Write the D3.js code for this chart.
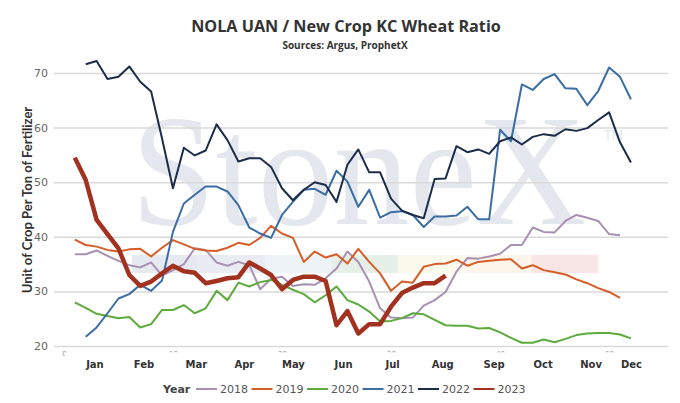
<!DOCTYPE html>
<html><head><meta charset="utf-8">
<script src="https://cdn.jsdelivr.net/npm/d3@7"></script>
<style>body{margin:0;background:#fff;} svg{display:block;}</style>
</head><body><svg id="c" width="680" height="403"></svg>
<script>
const years = ["2018","2019","2020","2021","2022","2023"];
const startWeeks = [1,1,1,2,2,1];
const v2018 = [36.8,36.8,37.5,36.5,35.6,34.8,34.4,35.3,32.9,33.9,35.0,37.9,37.6,35.3,34.7,35.4,34.8,30.4,32.3,32.7,31.0,31.3,31.2,32.4,34.2,37.3,35.4,31.8,26.9,25.2,25.1,25.2,27.4,28.4,29.9,33.6,36.1,36.0,36.4,36.9,38.5,38.5,41.7,40.9,40.8,42.9,44.0,43.5,42.9,40.5,40.3];
const v2019 = [39.5,38.5,38.2,37.6,37.3,37.7,37.8,36.4,38.0,39.4,38.6,37.8,37.5,37.4,38.0,38.9,38.5,39.8,42.0,40.6,39.8,35.4,37.3,36.2,36.8,35.1,37.8,35.4,33.3,30.1,31.8,31.6,34.5,35.0,35.1,35.8,34.7,35.4,35.6,35.8,35.9,34.2,34.8,33.9,33.5,33.1,32.2,31.5,30.6,29.9,28.8];
const v2020 = [28.0,27.0,25.9,25.5,25.1,25.3,23.4,24.0,26.6,26.6,27.5,26.0,26.9,30.1,28.4,31.6,30.9,31.7,32.1,31.2,30.3,29.5,28.0,29.3,30.9,28.4,27.6,26.3,24.5,24.6,25.1,26.0,25.8,24.8,23.8,23.7,23.7,23.2,23.3,22.5,21.5,20.6,20.6,21.2,20.7,21.3,22.0,22.3,22.4,22.4,22.1,21.4];
const v2021 = [21.7,23.4,26.0,28.7,29.5,31.2,30.1,32.0,40.9,46.1,47.7,49.2,49.2,48.3,45.8,41.7,40.6,39.8,44.0,46.4,48.6,48.8,47.7,52.1,50.1,45.5,48.6,43.5,44.5,44.7,44.0,41.8,43.7,43.7,43.9,45.5,43.2,43.2,59.6,57.5,67.9,66.9,68.9,69.8,67.2,67.1,64.1,66.7,71.0,69.3,65.2];
const v2022 = [71.6,72.2,68.9,69.3,71.2,68.4,66.6,58.0,48.9,56.3,54.9,55.8,60.6,57.7,53.8,54.4,54.4,52.8,48.9,46.7,48.6,50.0,49.5,46.4,53.2,56.0,51.8,51.8,47.0,44.8,44.0,43.4,50.6,50.7,56.6,55.5,56.0,55.2,57.5,58.2,56.9,58.3,58.8,58.5,59.7,59.4,59.9,61.4,62.8,57.3,53.6];
const v2023 = [54.5,50.4,43.1,40.5,37.9,33.0,31.0,31.8,33.3,34.7,33.7,33.4,31.5,31.9,32.4,32.6,35.3,34.2,33.0,30.4,32.1,32.7,32.7,31.9,23.8,26.4,22.3,24.0,24.0,27.2,29.7,30.7,31.5,31.5,32.9];
const seriesValues = [v2018,v2019,v2020,v2021,v2022,v2023];
const monthLabels = ["Jan","Feb","Mar","Apr","May","Jun","Jul","Aug","Sep","Oct","Nov","Dec"];
const monthWeeks = [2.8,7.3,12.1,16.5,21,25.6,30.1,34.7,39.4,43.9,48.3,52];
const weekTicks = [0,10,20,30,40,50];
const yTicks = [20,30,40,50,60,70];

const colors = ["#a890b4","#d65d28","#5cab3c","#3b6da5","#1b2d4a","#a2321f"];
const widths = [2,2,2,2,2,4.5];

const svg = d3.select("#c");
const x = d3.scaleLinear().domain([-1,55.4]).range([53,668]);
const y = d3.scaleLinear().domain([20,70]).range([346,73]);

// watermark
const wm = svg.append("g");
const bandCols = ["#e6eaf0","#e9edf3","#eef3f8","#e6efe8","#fafaec","#fdf5ea","#f8e6e6"];
bandCols.forEach((c,i)=>wm.append("rect").attr("x",132+i*66.6).attr("y",255).attr("width",66.7).attr("height",18).attr("fill",c));
const wt = wm.append("text").attr("transform","translate(131,224) scale(0.955,1)")
  .attr("font-family","Liberation Serif, serif").attr("font-size",159).attr("fill","#e4e8ee");
wt.append("tspan").text("StoneX");
wt.append("tspan").attr("font-size",14).attr("font-family","Liberation Sans, sans-serif")
  .attr("dx",18).attr("dy",-84).text("TM");

// y grid + labels
const yAxis = d3.axisLeft(y).tickValues(yTicks).tickSize(-(668-54)).tickPadding(6);
const yg = svg.append("g").attr("transform","translate(54,0)").call(yAxis);
yg.select(".domain").remove();
yg.selectAll("line").attr("stroke","#d9d9d9").attr("stroke-width",1.5);
yg.selectAll("text").attr("font-family","DejaVu Sans, sans-serif").attr("font-size",11).attr("fill","#666");

// week axis (mostly hidden behind month labels)
const wAxis = d3.axisBottom(x).tickValues(weekTicks).tickSize(0).tickPadding(0);
const wg = svg.append("g").attr("transform","translate(0,351)").call(wAxis);
wg.select(".domain").remove();
wg.selectAll("text").attr("font-family","DejaVu Sans, sans-serif").attr("font-size",7).attr("fill","#999").attr("dy","0.75em");
svg.append("rect").attr("x",65).attr("y",352.5).attr("width",615).attr("height",25).attr("fill","#fff");

// month axis
const mAxis = d3.axisBottom(x).tickValues(monthWeeks).tickFormat((d,i)=>monthLabels[i]).tickSize(0).tickPadding(0);
const mg = svg.append("g").attr("transform","translate(0,361)").call(mAxis);
mg.select(".domain").remove();
mg.selectAll("text").attr("font-family","DejaVu Sans, sans-serif").attr("font-weight","bold").attr("font-size",10).attr("fill","#333");

// lines
const line = d3.line().x(d=>x(d[0])).y(d=>y(d[1]));
seriesValues.forEach((vals,i)=>{
  const pts = vals.map((v,j)=>[startWeeks[i]+j, v]);
  svg.append("path").datum(pts).attr("d",line).attr("fill","none")
    .attr("stroke",colors[i]).attr("stroke-width",widths[i]).attr("stroke-linejoin","round");
});

// titles
svg.append("text").attr("x",346).attr("y",32).attr("text-anchor","middle")
  .attr("font-family","Open Sans, sans-serif").attr("font-weight","bold").attr("font-size",16.2).attr("fill","#333")
  .text("NOLA UAN / New Crop KC Wheat Ratio");
svg.append("text").attr("x",345).attr("y",48.5).attr("text-anchor","middle")
  .attr("font-family","Open Sans, sans-serif").attr("font-weight","bold").attr("font-size",10).attr("fill","#333")
  .text("Sources: Argus, ProphetX");
svg.append("text").attr("transform","translate(32,200) rotate(-90)").attr("text-anchor","middle")
  .attr("font-family","Lato, sans-serif").attr("font-weight","bold").attr("font-size",13).attr("fill","#333")
  .text("Unit of Crop Per Ton of Fertilizer");

// legend
const lg = svg.append("g").attr("transform","translate(0,389)");
lg.append("text").attr("x",163).attr("y",4).attr("font-family","DejaVu Sans, sans-serif").attr("font-weight","bold")
  .attr("font-size",11).attr("fill","#444").text("Year");
years.forEach((yr,i)=>{
  const x0 = 196 + i*55.5;
  lg.append("line").attr("x1",x0).attr("x2",x0+21).attr("y1",0).attr("y2",0).attr("stroke",colors[i]).attr("stroke-width",2);
  lg.append("text").attr("x",x0+24).attr("y",4).attr("font-family","DejaVu Sans, sans-serif")
    .attr("font-size",11).attr("fill","#555").text(yr);
});
</script></body></html>
